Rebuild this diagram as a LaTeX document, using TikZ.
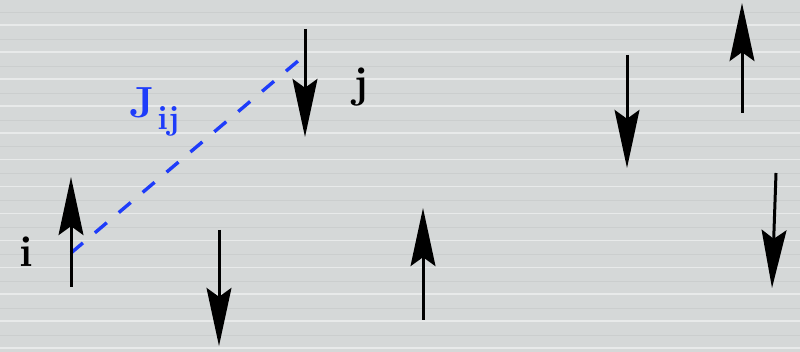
\documentclass[tikz,border=0pt]{standalone}
\usepackage{tikz}
\usetikzlibrary{arrows.meta,calc}
\definecolor{boardgray}{RGB}{213,216,216}
\definecolor{stripegray}{RGB}{232,234,234}
\definecolor{graingray}{RGB}{203,206,206}
\definecolor{bondblue}{RGB}{30,60,250}

\begin{document}
\begin{tikzpicture}[
  x=0.025cm, y=-0.025cm,
  spin/.style={-{Stealth[length=1.45cm, width=0.62cm, inset=0.22cm]}, line width=0.075cm},
  bond/.style={bondblue, line width=0.085cm, dash pattern=on 0.39cm off 0.392cm},
  lbl/.style={font=\fontsize{31}{37}\selectfont\bfseries, inner sep=0pt}
]
  % Background
  \useasboundingbox (0,0) rectangle (800,352);
  \fill[boardgray] (0,0) rectangle (800,352);
  \foreach \k in {0,...,12} {
    \fill[graingray] (0,{12+26.9*\k}) rectangle (800,{12.8+26.9*\k});
    \fill[stripegray] (0,{24.5+26.9*\k}) rectangle (800,{26+26.9*\k});
  }

  % Sites joined by the bond
  \coordinate (bi) at (71,253);
  \coordinate (bj) at (298,61);

  % Bond
  \draw[bond] (bi) -- (bj);

  % Spins (tail -- tip)
  \foreach \xa/\ya/\xb/\yb in {71/287/71/177, 305/29/305/137, 219/230/219/346,
      423/320/423/208, 627/55/627/168, 742/113/742/3, 776/173/772/288}
    \draw[spin] (\xa,\ya) -- (\xb,\yb);

  % Labels
  \node[lbl, anchor=base] (lbli) at (26,267) {i};
  \node[lbl, anchor=base] (lblj) at (361,98) {j};
  \node[lbl, anchor=base west, text=bondblue] (lblJ) at (129,118)
    {J\hspace{2pt}\raisebox{-8.5pt}{\fontsize{24}{29}\selectfont\bfseries ij}};
\end{tikzpicture}
\end{document}
